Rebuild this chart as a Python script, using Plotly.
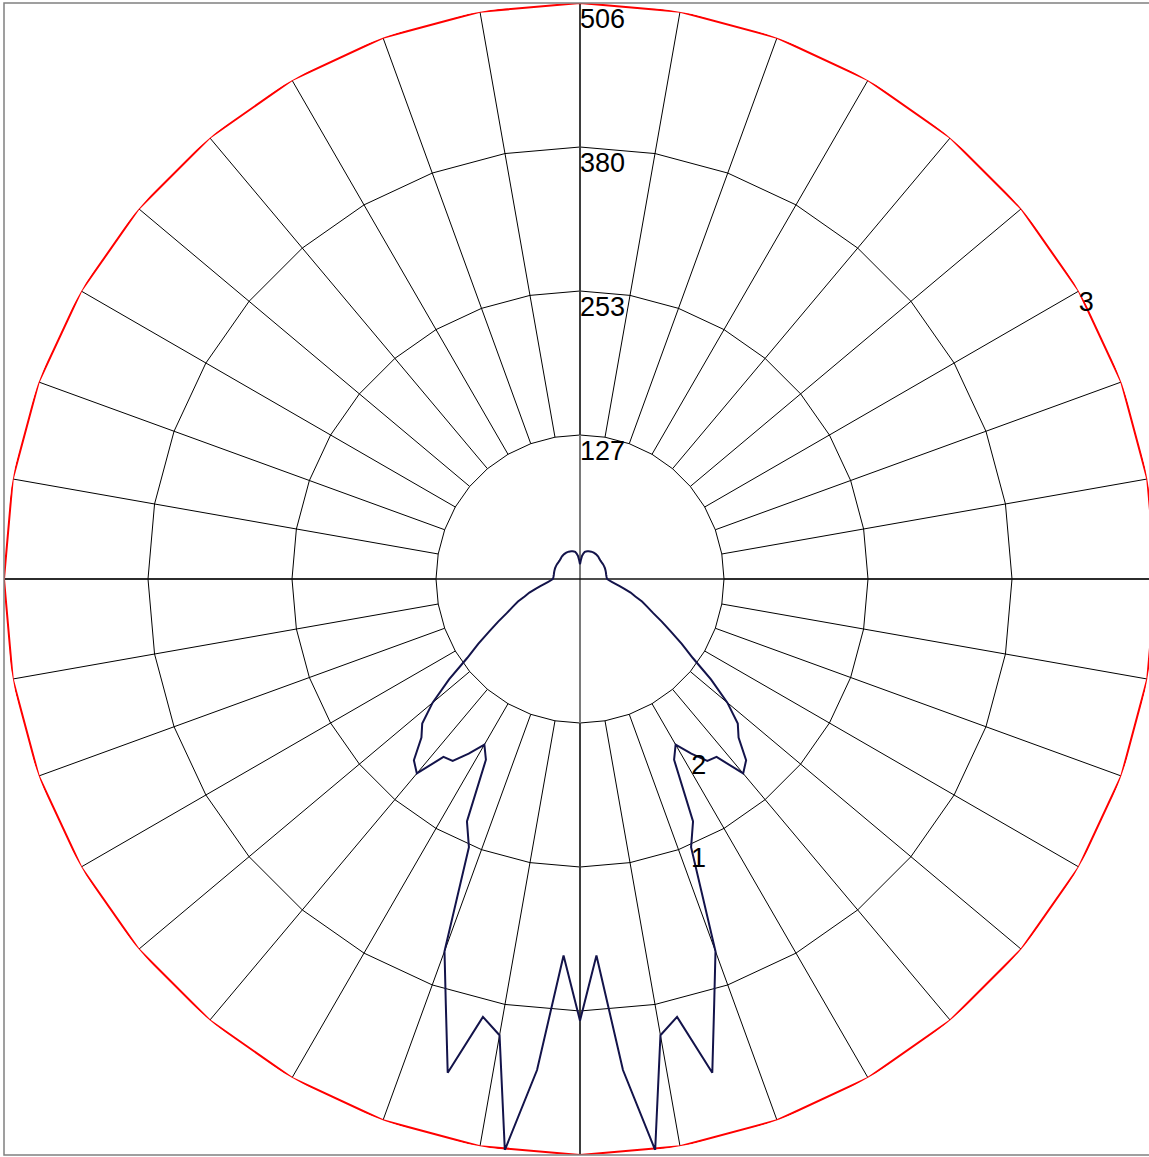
import plotly.graph_objects as go

# Polar light distribution: intensity (cd) against gamma angle,
# 0 deg = nadir (down), 180 deg = zenith (up); the curve is symmetric.
gamma_deg = [i * 2.5 for i in range(73)]
intensity = [
    388, 331, 433, 506, 407, 394, 449, 392, 348, 255,
    235, 179, 168, 182, 195, 197, 223, 216, 197, 188,
    169, 145, 121, 106, 92, 81, 71, 64, 58, 51,
    46, 40, 35, 31, 28, 25.5, 24, 23.6, 23.4, 23.3,
    23.3, 23.4, 23.5, 23.6, 23.7, 23.8, 23.9, 23.9, 24.0, 24.0,
    24.0, 24.0, 24.1, 24.2, 24.4, 24.8, 25.2, 25.5, 25.7, 25.9,
    26.0, 26.1, 26.1, 26.0, 25.8, 25.5, 25.2, 24.8, 24.2, 22.6,
    20.3, 16.5, 13,
]

# Grid rings and their labels
ring_values = [126.5, 253, 379.5, 506]
ring_labels = ["127", "253", "380", "506"]
spoke_angles = list(range(0, 360, 10))

# Curve markers: label text, gamma angle of the labelled sample
curve_marks = [("1", 22.5), ("2", 32.5)]
outer_mark = ("3", 120)

R_MAX = ring_values[-1]
FONT = "Liberation Sans, Arial, sans-serif"
LABEL_GAP = 4.5  # radial gap between a ring and its value label

# Full symmetric curve (left half uses negative angles)
theta_full = [-g for g in gamma_deg[::-1]] + gamma_deg[1:]
r_full = intensity[::-1] + intensity[1:]

ring_theta = spoke_angles + [spoke_angles[0] + 360]

fig = go.Figure()

# Inner rings (polygonal between spokes)
for rv in ring_values[:-1]:
    fig.add_trace(go.Scatterpolar(
        r=[rv] * len(ring_theta), theta=ring_theta, mode="lines",
        line=dict(color="black", width=1), hoverinfo="skip"))

# Vertical axis (gray), drawn under the spokes
fig.add_trace(go.Scatterpolar(
    r=[R_MAX, R_MAX], theta=[0, 180], mode="lines",
    line=dict(color="#7a7a7a", width=2), hoverinfo="skip"))

# Spokes from the innermost ring to the outer ring
sp_r, sp_t = [], []
for a in spoke_angles:
    sp_r += [ring_values[0], R_MAX, None]
    sp_t += [a, a, None]
fig.add_trace(go.Scatterpolar(
    r=sp_r, theta=sp_t, mode="lines",
    line=dict(color="black", width=1), hoverinfo="skip"))

# Horizontal axis
fig.add_trace(go.Scatterpolar(
    r=[R_MAX, R_MAX], theta=[90, 270], mode="lines",
    line=dict(color="#111111", width=1.5), hoverinfo="skip"))

# Outer ring (red)
fig.add_trace(go.Scatterpolar(
    r=[R_MAX] * len(ring_theta), theta=ring_theta, mode="lines",
    line=dict(color="#ff0000", width=2), hoverinfo="skip"))

# Intensity curve
fig.add_trace(go.Scatterpolar(
    r=r_full, theta=theta_full, mode="lines",
    line=dict(color="#13134a", width=2), hoverinfo="skip"))

# Ring value labels along the upward axis
fig.add_trace(go.Scatterpolar(
    r=[v - LABEL_GAP for v in ring_values], theta=[180] * len(ring_values),
    mode="text", text=ring_labels, textposition="bottom right",
    textfont=dict(family=FONT, size=27, color="black"),
    cliponaxis=False, hoverinfo="skip"))

# Curve / ring markers
mark_r = [intensity[gamma_deg.index(g)] for _, g in curve_marks] + [R_MAX]
mark_t = [g for _, g in curve_marks] + [outer_mark[1]]
mark_txt = [t for t, _ in curve_marks] + [outer_mark[0]]
fig.add_trace(go.Scatterpolar(
    r=mark_r, theta=mark_t, mode="text", text=mark_txt,
    textposition="bottom right",
    textfont=dict(family=FONT, size=27, color="black"),
    cliponaxis=False, hoverinfo="skip"))

W, H = 1160, 1157
x0, x1 = 4 / W, 1156 / W
y0, y1 = (H - 1155) / H, (H - 3) / H

fig.update_layout(
    width=W, height=H,
    margin=dict(l=0, r=0, t=0, b=0),
    paper_bgcolor="white",
    showlegend=False,
    polar=dict(
        domain=dict(x=[x0, x1], y=[y0, y1]),
        bgcolor="white",
        radialaxis=dict(range=[0, R_MAX], visible=False),
        angularaxis=dict(rotation=-90, direction="counterclockwise", visible=False),
    ),
    shapes=[dict(type="rect", xref="paper", yref="paper",
                 x0=x0, x1=x1, y0=y0, y1=y1,
                 line=dict(color="#808080", width=1.5), layer="above")],
)

fig.write_html(
    "out.html",
    post_script="document.documentElement.style.overflow='hidden';"
                "document.body.style.overflow='hidden';"
                "document.body.style.margin='0';",
)
